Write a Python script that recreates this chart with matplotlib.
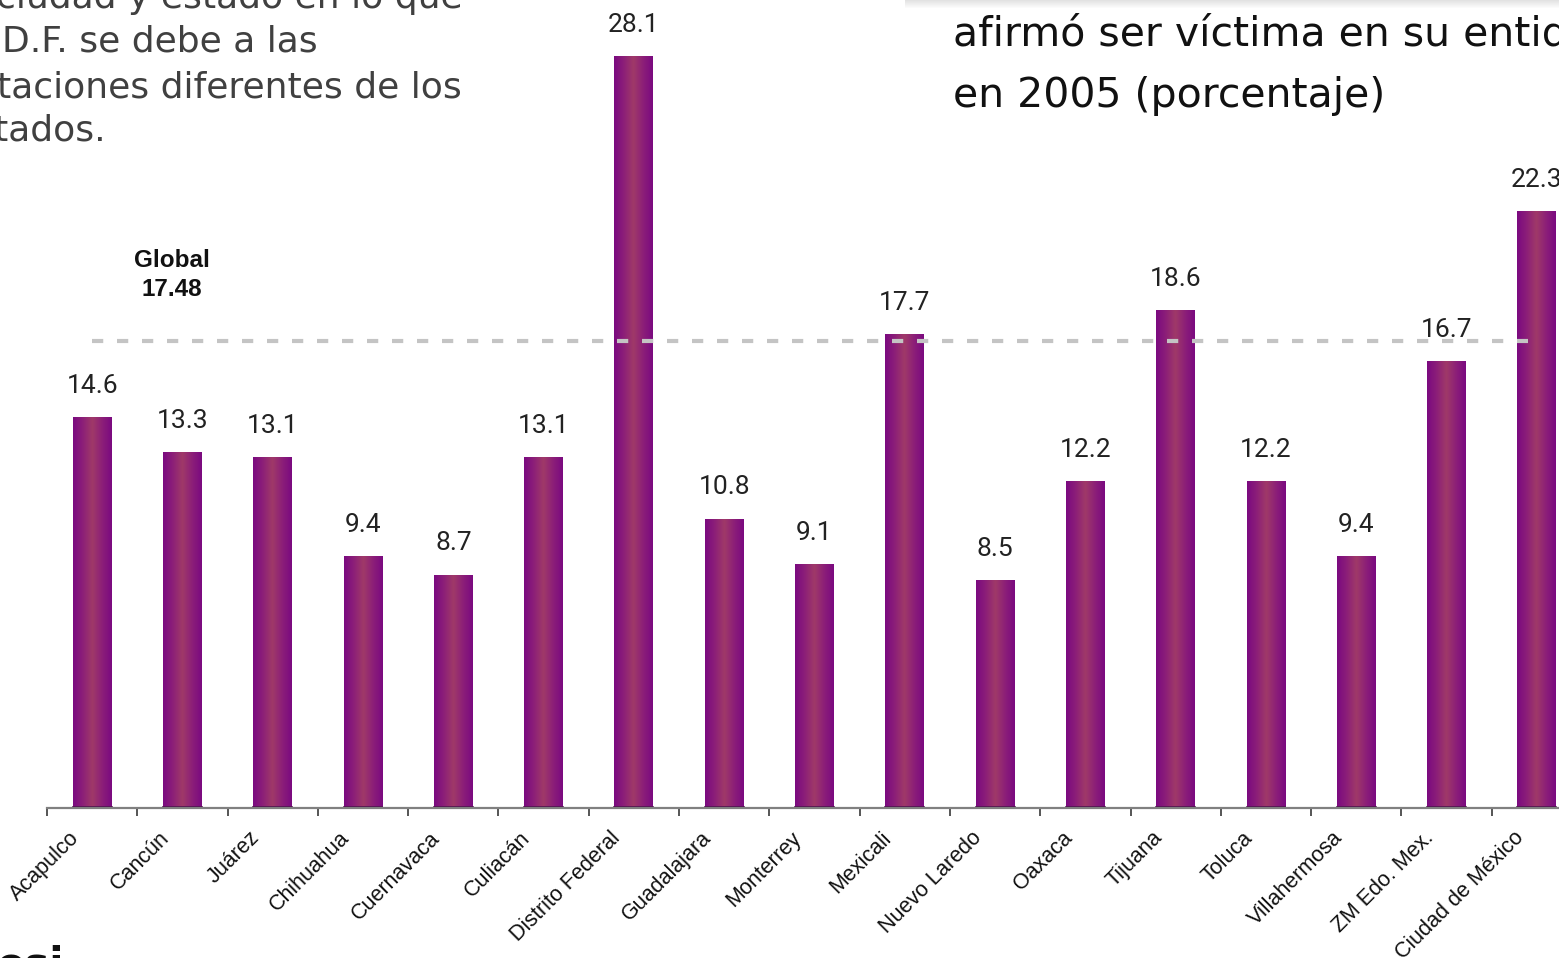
import numpy as np
import matplotlib
matplotlib.use("Agg")
import matplotlib.pyplot as plt
from matplotlib.colors import LinearSegmentedColormap
from matplotlib.patches import Rectangle
import matplotlib.transforms as mtransforms

# data
cities = ["Acapulco", "Cancún", "Juárez", "Chihuahua", "Cuernavaca", "Culiacán",
          "Distrito Federal", "Guadalajara", "Monterrey", "Mexicali", "Nuevo Laredo",
          "Oaxaca", "Tijuana", "Toluca", "Villahermosa", "ZM Edo. Mex.",
          "Ciudad de México"]
values = [14.6, 13.3, 13.1, 9.4, 8.7, 13.1, 28.1, 10.8, 9.1, 17.7, 8.5,
          12.2, 18.6, 12.2, 9.4, 16.7, 22.3]
global_value = 17.48
left_lines = ["ciudad y estado en lo que", "D.F. se debe a las",
              "taciones diferentes de los", "tados."]
right_lines = ["afirmó ser víctima en su entidad", "en 2005 (porcentaje)"]

W, H = 1559, 958
fig = plt.figure(figsize=(W / 100, H / 100), dpi=100)
fig.patch.set_facecolor("white")

# axes run past the right edge of the figure (cropped slide)
ax = fig.add_axes([47 / W, 150 / H, 1535 / W, 802 / H])
n = len(cities)
x = np.arange(n)
bw = 0.43

bars = ax.bar(x, values, width=bw, color="none", edgecolor="none")
grad_cmap = LinearSegmentedColormap.from_list(
    "bar", ["#7b0a80", "#8c1f78", "#a03a68", "#8c1f78", "#7b0a80"])
grad = np.linspace(0, 1, 64).reshape(1, -1)
for b in bars:
    x0 = b.get_x()
    ax.imshow(grad, cmap=grad_cmap, aspect="auto", interpolation="bicubic",
              extent=(x0, x0 + b.get_width(), 0, b.get_height()), zorder=2)
    ax.plot([x0, x0 + b.get_width()], [0.05, 0.05], color="#4a0a4a", lw=1.2, zorder=3)

for xi, v in zip(x, values):
    ax.annotate(f"{v:.1f}", (xi, v), xytext=(0, 23), textcoords="offset points",
                ha="center", va="center", fontsize=19, color="#222222",
                family="Roboto")

# global average dashed line
ax.plot([0, 15.9], [global_value, global_value], color="#c4c4c4", lw=3,
        dashes=(2.7, 3.3), zorder=4)
ax.text(0.88, 19.95, f"Global\n{global_value:.2f}", ha="center", va="center",
        fontsize=17.5, fontweight="bold", family="Liberation Sans",
        linespacing=1.32, color="#111111")

ax.set_xlim(-0.5, n - 0.5)
ax.set_ylim(0, 30)
for s in ["top", "right", "left"]:
    ax.spines[s].set_visible(False)
ax.spines["bottom"].set_color("#808080")
ax.spines["bottom"].set_linewidth(1.6)
ax.spines["bottom"].set_zorder(5)
ax.set_yticks([])

ax.set_xticks(x)
ax.set_xticks(np.arange(-0.5, n, 1), minor=True)
ax.tick_params(axis="x", which="major", length=0, pad=14)
ax.tick_params(axis="x", which="minor", length=6, width=1.4, color="#555555")
ax.set_xticklabels(cities, rotation=45, ha="right", va="top", fontsize=15.5,
                   family="Liberation Sans", color="#111111")
shift = mtransforms.ScaledTranslation(-9 / 100, 0, fig.dpi_scale_trans)
for lab in ax.get_xticklabels():
    lab.set_transform(lab.get_transform() + shift)

# slide text around the chart
left_x = [-4, 2, -3, -6]
left_y = [8, 52, 97, 141]
for txt, lx, ly in zip(left_lines, left_x, left_y):
    fig.text(lx / W, 1 - ly / H, txt, ha="left", va="baseline", fontsize=26,
             family="DejaVu Sans", color="#404040")

right_y = [46, 107]
for txt, ry in zip(right_lines, right_y):
    fig.text(953 / W, 1 - ry / H, txt, ha="left", va="baseline", fontsize=29.5,
             family="DejaVu Sans", color="#111111")

# soft shadow under the box at the top right
for i in range(8):
    fig.patches.append(Rectangle((905 / W, 1 - (i + 1) / H), 1, 1 / H,
                                 transform=fig.transFigure, color="#a0a0a0",
                                 alpha=0.3 * (1 - i / 8), lw=0))

# logo fragment bottom left
fig.text(-4 / W, 1 - 978 / H, "osi", ha="left", va="baseline", fontsize=30,
         fontweight="bold", family="DejaVu Sans", color="#111111")

fig.savefig("out.png", dpi=100)
